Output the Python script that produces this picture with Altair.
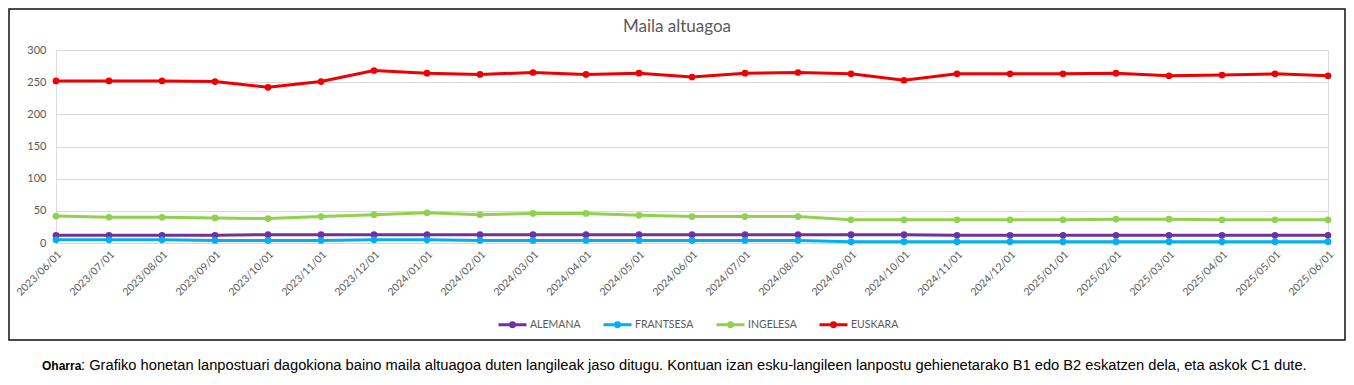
import altair as alt
import pandas as pd

dates = ["2023/06/01", "2023/07/01", "2023/08/01", "2023/09/01", "2023/10/01", "2023/11/01",
         "2023/12/01", "2024/01/01", "2024/02/01", "2024/03/01", "2024/04/01", "2024/05/01",
         "2024/06/01", "2024/07/01", "2024/08/01", "2024/09/01", "2024/10/01", "2024/11/01",
         "2024/12/01", "2025/01/01", "2025/02/01", "2025/03/01", "2025/04/01", "2025/05/01",
         "2025/06/01"]

alemana = [12, 12, 12, 12, 13, 13, 13, 13, 13, 13, 13, 13, 13, 13, 13, 13, 13, 12, 12, 12, 12, 12, 12, 12, 12]
frantsesa = [5, 5, 5, 4, 4, 4, 5, 5, 4, 4, 4, 4, 4, 4, 4, 2, 2, 2, 2, 2, 2, 2, 2, 2, 2]
ingelesa = [42, 40, 40, 39, 38, 41, 44, 47, 44, 46, 46, 43, 41, 41, 41, 36, 36, 36, 36, 36, 37, 37, 36, 36, 36]
euskara = [252, 252, 252, 251, 242, 251, 268, 264, 262, 265, 262, 264, 258, 264, 265, 263, 253, 263, 263, 263, 264, 260, 261, 263, 260]

series_names = ["ALEMANA", "FRANTSESA", "INGELESA", "EUSKARA"]
series_colors = ["#7030A0", "#00B0F0", "#92D050", "#EE0000"]
series_values = [alemana, frantsesa, ingelesa, euskara]

title_text = "Maila altuagoa"
note_bold = "Oharra"
note_text = (": Grafiko honetan lanpostuari dagokiona baino maila altuagoa duten langileak jaso ditugu. "
             "Kontuan izan esku-langileen lanpostu gehienetarako B1 edo B2 eskatzen dela, eta askok C1 dute.")

rows = []
for name, vals in zip(series_names, series_values):
    for d, v in zip(dates, vals):
        rows.append({"data": d, "hizkuntza": name, "balioa": v})
df = pd.DataFrame(rows)

legend_symbol = "M-1,0L1,0M-0.14,0A0.14,0.14,0,1,1,0.14,0A0.14,0.14,0,1,1,-0.14,0Z"

lines = alt.Chart(df).mark_line(
    strokeWidth=3,
    point=alt.OverlayMarkDef(size=45, filled=True, opacity=1),
).encode(
    x=alt.X("data:N", sort=dates, title=None,
            scale=alt.Scale(type="point", padding=0),
            axis=alt.Axis(labelAngle=-45, grid=False, ticks=False, domain=True,
                          domainColor="#d9d9d9", labelFont="Lato", labelFontSize=10.5,
                          labelColor="#595959", labelPadding=6)),
    y=alt.Y("balioa:Q", title=None,
            scale=alt.Scale(domain=[0, 300], nice=False),
            axis=alt.Axis(values=[0, 50, 100, 150, 200, 250, 300], domain=False, ticks=False,
                          gridColor="#d9d9d9", gridWidth=1, labelFont="Lato",
                          labelFontSize=11, labelColor="#595959", labelPadding=10)),
    color=alt.Color("hizkuntza:N", sort=series_names,
                    scale=alt.Scale(domain=series_names, range=series_colors),
                    legend=alt.Legend(orient="none", legendX=441, legendY=259,
                                      direction="horizontal", title=None,
                                      symbolType=legend_symbol, symbolSize=784,
                                      symbolStrokeWidth=3, labelFont="Lato",
                                      labelFontSize=10.5, labelColor="#595959",
                                      labelOffset=2, columnPadding=16)),
)

frame = alt.Chart(alt.Data(values=[{"k": 1}])).mark_rect(
    fill="transparent", stroke="#111111", strokeWidth=1.5
).encode(x=alt.value(-47), x2=alt.value(1289), y=alt.value(-41), y2=alt.value(290))

note1 = alt.Chart(alt.Data(values=[{"k": 1}])).mark_text(
    align="left", baseline="middle", font="Liberation Sans", fontSize=12,
    fontWeight="bold", color="#000000", text=note_bold
).encode(x=alt.value(-14), y=alt.value(316))

note2 = alt.Chart(alt.Data(values=[{"k": 1}])).mark_text(
    align="left", baseline="middle", font="Liberation Sans", fontSize=14.7,
    color="#000000", text=note_text
).encode(x=alt.value(25), y=alt.value(316))

chart = alt.layer(frame, lines, note1, note2).properties(
    width=1272, height=193,
    autosize=alt.AutoSizeParams(type="none"),
    padding={"left": 48, "top": 42, "right": 18, "bottom": 134},
    title=alt.TitleParams(title_text, font="Lato", fontSize=17, color="#595959",
                          fontWeight="normal", anchor="middle", dx=-15,
                          baseline="alphabetic", offset=-41),
).configure_view(stroke=None).configure(background="white")

chart.save("out.html", embed_options={"renderer": "svg", "actions": False})
